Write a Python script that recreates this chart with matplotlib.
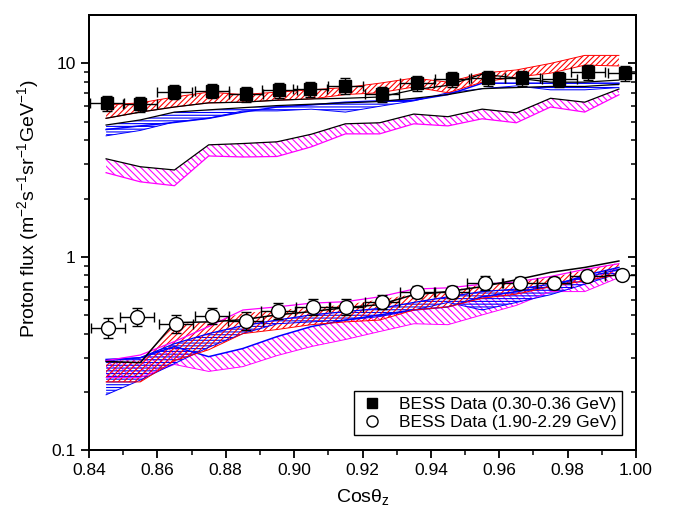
import matplotlib
matplotlib.use('Agg')
import matplotlib.pyplot as plt
from matplotlib.ticker import MultipleLocator, FixedLocator, NullFormatter, FixedFormatter
from matplotlib.lines import Line2D

plt.rcParams['font.family'] = ['Liberation Sans', 'DejaVu Sans']
plt.rcParams['mathtext.fontset'] = 'custom'
plt.rcParams['mathtext.rm'] = 'Liberation Sans'
plt.rcParams['mathtext.it'] = 'Liberation Sans:italic'
plt.rcParams['hatch.linewidth'] = 0.8

# ---------------- data ----------------
x_model = [0.845, 0.855, 0.865, 0.875, 0.885, 0.895, 0.905, 0.915,
           0.925, 0.935, 0.945, 0.955, 0.965, 0.975, 0.985, 0.995]

# low-energy group (0.30-0.36 GeV)
red_hi_up = [6.1, 6.25, 6.7, 7.1, 6.9, 7.1, 7.3, 7.5, 7.9, 8.4, 8.0, 8.9, 9.25, 10.0, 11.0, 11.0]
red_lo_up = [5.2, 5.6, 5.95, 6.25, 6.3, 6.45, 6.55, 6.9, 7.05, 7.55, 7.05, 8.0, 8.5, 8.9, 9.8, 9.7]
black_mid_up = [5.2, 5.6, 5.95, 6.25, 6.3, 6.45, 6.55, 6.6, 6.7, 7.3, 7.7, 8.8, 8.4, 8.0, 8.0, 8.2]
blue_hi_up = [4.8, 5.1, 5.6, 5.75, 5.9, 6.05, 6.15, 6.25, 6.35, 6.6, 6.9, 7.4, 7.5, 7.6, 7.6, 7.8]
blue_mid_up = [4.55, 4.75, 4.95, 5.2, 5.6, 5.95, 6.1, 6.3, 6.4, 6.45, 6.9, 7.9, 7.9, 7.9, 7.9, 7.9]
blue_lo_up = [4.22, 4.5, 4.98, 5.2, 5.68, 5.68, 5.8, 5.6, 6.0, 6.4, 7.05, 7.4, 7.65, 7.3, 7.3, 7.5]
mag_hi_up = [3.21, 2.92, 2.81, 3.79, 3.85, 3.93, 4.3, 4.87, 4.93, 5.47, 5.3, 5.8, 5.55, 6.6, 6.3, 7.37]
mag_lo_up = [2.72, 2.44, 2.33, 3.32, 3.28, 3.3, 3.7, 4.32, 4.32, 4.87, 4.75, 5.17, 4.93, 5.95, 5.6, 6.88]

# high-energy group (1.90-2.29 GeV)
red_hi_lo = [0.29, 0.29, 0.445, 0.46, 0.51, 0.53, 0.545, 0.565, 0.60, 0.64, 0.66, 0.72, 0.74, 0.78, 0.85, 0.93]
red_lo_lo = [0.225, 0.225, 0.29, 0.33, 0.40, 0.42, 0.445, 0.46, 0.47, 0.53, 0.55, 0.61, 0.64, 0.70, 0.75, 0.81]
black_lo = [0.287, 0.283, 0.456, 0.46, 0.472, 0.50, 0.52, 0.545, 0.565, 0.636, 0.66, 0.70, 0.76, 0.83, 0.88, 0.95]
magA_hi_lo = [0.29, 0.31, 0.364, 0.435, 0.53, 0.55, 0.575, 0.585, 0.62, 0.68, 0.69, 0.72, 0.74, 0.79, 0.86, 0.92]
magB_hi_lo = [0.294, 0.30, 0.343, 0.304, 0.335, 0.386, 0.435, 0.47, 0.50, 0.53, 0.55, 0.62, 0.66, 0.70, 0.80, 0.88]
magB_lo_lo = [0.237, 0.237, 0.277, 0.255, 0.27, 0.308, 0.343, 0.373, 0.41, 0.45, 0.445, 0.50, 0.56, 0.66, 0.66, 0.78]
blue_hi_lo = [0.29, 0.30, 0.355, 0.40, 0.44, 0.47, 0.50, 0.52, 0.54, 0.58, 0.62, 0.66, 0.68, 0.72, 0.78, 0.86]
blue_lo_lo = [0.193, 0.23, 0.28, 0.34, 0.40, 0.45, 0.46, 0.47, 0.49, 0.53, 0.58, 0.53, 0.58, 0.636, 0.72, 0.82]

# BESS data
sq_x = [0.8452, 0.8549, 0.865, 0.8759, 0.886, 0.8957, 0.9047, 0.915,
        0.9257, 0.9359, 0.9461, 0.9566, 0.9668, 0.9776, 0.986, 0.9968]
sq_y = [6.25, 6.17, 7.13, 7.2, 6.95, 7.3, 7.38, 7.67, 6.95, 7.93, 8.33, 8.42, 8.42, 8.33, 9.04, 8.93]
sq_yerr = [0.55, 0.55, 0.6, 0.6, 0.6, 0.65, 0.65, 0.7, 0.6, 0.7, 0.75, 0.75, 0.75, 0.75, 0.8, 0.8]
ci_x = [0.8455, 0.854, 0.8654, 0.876, 0.8858, 0.8954, 0.9056, 0.9152,
        0.9257, 0.9359, 0.9461, 0.9557, 0.966, 0.976, 0.9858, 0.996]
ci_y = [0.43, 0.49, 0.451, 0.496, 0.467, 0.526, 0.552, 0.552, 0.585, 0.659, 0.659, 0.734, 0.734, 0.734, 0.798, 0.807]
ci_yerr = [0.05, 0.05, 0.05, 0.05, 0.05, 0.05, 0.05, 0.05, 0.05, 0.05, 0.05, 0.06, 0.05, 0.05, 0.05, 0.05]
x_err = 0.005
legend_labels = ['BESS Data (0.30-0.36 GeV)', 'BESS Data (1.90-2.29 GeV)']

# ---------------- figure ----------------
fig = plt.figure(figsize=(6.79, 5.2), dpi=100)
ax = fig.add_axes([89/679, 1-450/520, (636-89)/679, (450-15)/520])

def band(lo, hi, color, hatch):
    ax.fill_between(x_model, lo, hi, facecolor='none', edgecolor=color,
                    hatch=hatch, linewidth=0)

lw = 0.9
H_RED = '//////'
H_MAG = '\\\\\\\\\\'
H_BLUE = '------'
# upper group
band(mag_lo_up, mag_hi_up, '#ff00ff', H_MAG)
ax.plot(x_model, mag_lo_up, color='#ff00ff', lw=lw)
ax.plot(x_model, mag_hi_up, color='black', lw=lw)
band(blue_lo_up, blue_hi_up, '#0000ff', H_BLUE)
ax.plot(x_model, blue_lo_up, color='#0000ff', lw=0.7)
ax.plot(x_model, blue_mid_up, color='#0000ff', lw=1.1)
ax.plot(x_model, blue_hi_up, color='black', lw=lw)
band(red_lo_up, red_hi_up, '#ff0000', H_RED)
ax.plot(x_model, red_lo_up, color='#ff0000', lw=0.7)
ax.plot(x_model, red_hi_up, color='#ff0000', lw=0.7)
ax.plot(x_model, black_mid_up, color='black', lw=lw)

# lower group
band(magB_lo_lo, magB_hi_lo, '#ff00ff', H_MAG)
ax.plot(x_model, magB_lo_lo, color='#ff00ff', lw=0.7)
ax.plot(x_model, magB_hi_lo, color='#0000ff', lw=1.1)
band(blue_lo_lo, blue_hi_lo, '#0000ff', H_BLUE)
ax.plot(x_model, blue_lo_lo, color='#0000ff', lw=0.7)
ax.plot(x_model, blue_hi_lo, color='#0000ff', lw=0.9)
band(red_lo_lo, red_hi_lo, '#ff0000', H_RED)
ax.plot(x_model, red_lo_lo, color='#ff0000', lw=0.7)
ax.plot(x_model, magA_hi_lo, color='#ff00ff', lw=0.9)
ax.plot(x_model, black_lo, color='black', lw=1.1)

# data
ax.errorbar(sq_x, sq_y, xerr=x_err, yerr=sq_yerr, fmt='s', color='black',
            mfc='black', mec='black', ms=8.5, elinewidth=1.0, capsize=3.5,
            capthick=1.0, zorder=5)
ax.errorbar(ci_x, ci_y, xerr=x_err, yerr=ci_yerr, fmt='o', color='black',
            mfc='white', mec='black', ms=10, mew=1.0, elinewidth=1.0, capsize=3.5,
            capthick=1.0, zorder=5)

ax.set_yscale('log')
ax.set_xlim(0.84, 1.00)
ax.set_ylim(0.1, 17.8)

ax.xaxis.set_major_locator(MultipleLocator(0.02))
ax.xaxis.set_minor_locator(MultipleLocator(0.01))
ax.xaxis.set_major_formatter(plt.FuncFormatter(lambda v, p: f'{v:.2f}'))
ax.yaxis.set_major_locator(FixedLocator([0.1, 1, 10]))
ax.yaxis.set_major_formatter(FixedFormatter(['0.1', '1', '10']))
minors = [m * d for d in (0.1, 1, 10) for m in range(2, 10) if m * d < 17.8]
ax.yaxis.set_minor_locator(FixedLocator(minors))
ax.yaxis.set_minor_formatter(NullFormatter())

for s in ax.spines.values():
    s.set_linewidth(1.4)
ax.tick_params(which='major', direction='out', length=6, width=1.3, labelsize=12.5)
ax.tick_params(which='minor', direction='out', length=3.5, width=1.1)
ax.tick_params(which='both', top=False, right=False)

# right side ticks inward
ax2 = ax.twinx()
ax2.set_yscale('log')
ax2.set_ylim(ax.get_ylim())
ax2.yaxis.set_major_locator(FixedLocator([0.1, 1, 10]))
ax2.yaxis.set_minor_locator(FixedLocator(minors))
ax2.yaxis.set_major_formatter(NullFormatter())
ax2.yaxis.set_minor_formatter(NullFormatter())
ax2.tick_params(which='major', direction='in', length=6, width=1.3)
ax2.tick_params(which='minor', direction='in', length=3.5, width=1.1)
for s in ax2.spines.values():
    s.set_linewidth(1.4)

ax.set_xlabel('Cos\u03b8$_\\mathrm{z}$', fontsize=14, labelpad=6)
ax.set_ylabel('Proton flux (m$^{-2}$s$^{-1}$sr$^{-1}$GeV$^{-1}$)', fontsize=14)
ax.yaxis.set_label_coords(-0.088, 0.555)

handles = [Line2D([], [], marker='s', ls='none', color='black', ms=7.5),
           Line2D([], [], marker='o', ls='none', mfc='white', mec='black', ms=8)]
leg = ax.legend(handles, legend_labels, loc='lower right', fontsize=12.5, frameon=True,
                fancybox=False, edgecolor='black', framealpha=1,
                borderpad=0.3, handletextpad=0.8, handlelength=1.5,
                bbox_to_anchor=(0.99, 0.015), labelspacing=0.15)
leg.get_frame().set_linewidth(1.0)

fig.savefig('out.png', dpi=100)
